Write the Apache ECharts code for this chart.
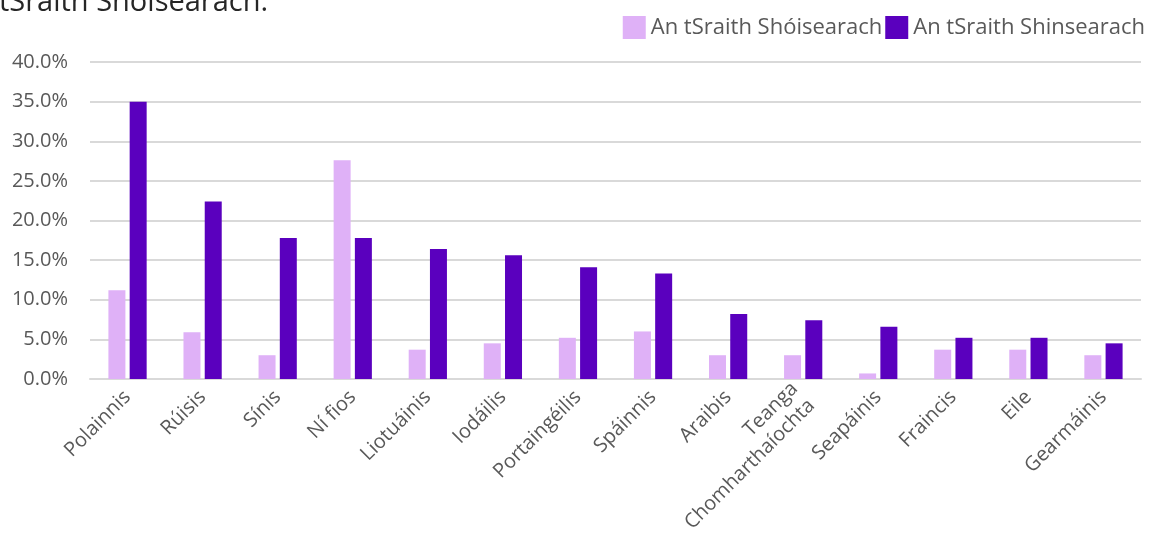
<!DOCTYPE html>
<html>
<head>
<meta charset="utf-8">
<script src="https://cdn.jsdelivr.net/npm/echarts@6/dist/echarts.min.js"></script>
<style>
html,body{margin:0;padding:0;background:#fff;}
#chart{width:1156px;height:553px;}
</style>
</head>
<body>
<div id="chart"></div>
<script>
var categories = ['Polainnis','Rúisis','Sínis','Ní fios','Liotuáinis','Iodáilis','Portaingéilis','Spáinnis','Araibis','Teanga\nChomharthaíochta','Seapáinis','Fraincis','Eile','Gearmáinis'];
var junior = [11.2, 5.9, 3.0, 27.6, 3.7, 4.5, 5.2, 6.0, 3.0, 3.0, 0.7, 3.7, 3.7, 3.0];
var senior = [35.0, 22.4, 17.8, 17.8, 16.4, 15.6, 14.1, 13.3, 8.2, 7.4, 6.6, 5.2, 5.2, 4.5];
var seriesNames = ['An tSraith Shóisearach', 'An tSraith Shinsearach'];
var colors = ['#DFB1F7', '#5A00BE'];

var myChart = echarts.init(document.getElementById('chart'));
var option = {
    color: colors,
    animation: false,
    textStyle: { fontFamily: 'Open Sans' },
    graphic: [{
        type: 'text',
        left: -1,
        top: -12,
        style: {
            text: 'tSraith Shóisearach.',
            font: '500 29px "Open Sans"',
            fill: '#262626'
        }
    }],
    legend: {
        top: 11,
        right: 6,
        itemWidth: 23,
        itemHeight: 23,
        itemGap: 3,
        icon: 'rect',
        textStyle: { color: '#595959', fontSize: 22, fontFamily: 'Open Sans' },
        data: seriesNames
    },
    grid: {
        left: 90,
        right: 15,
        top: 62,
        bottom: 174
    },
    xAxis: {
        type: 'category',
        data: categories,
        axisLine: { lineStyle: { color: '#D9D9D9', width: 2 } },
        axisTick: { show: false },
        axisLabel: {
            interval: 0,
            rotate: 45,
            color: '#595959',
            fontSize: 20,
            lineHeight: 24,
            margin: 15
        }
    },
    yAxis: {
        type: 'value',
        min: 0,
        max: 40,
        interval: 5,
        axisLine: { show: false },
        axisTick: { show: false },
        splitLine: { lineStyle: { color: '#D9D9D9', width: 2 } },
        axisLabel: {
            color: '#595959',
            fontSize: 20,
            margin: 22,
            formatter: function (v) { return v.toFixed(1) + '%'; }
        }
    },
    series: [
        { name: seriesNames[0], type: 'bar', barWidth: 17, barGap: '25%', data: junior },
        { name: seriesNames[1], type: 'bar', barWidth: 17, barGap: '25%', data: senior }
    ]
};
myChart.setOption(option);
</script>
</body>
</html>
